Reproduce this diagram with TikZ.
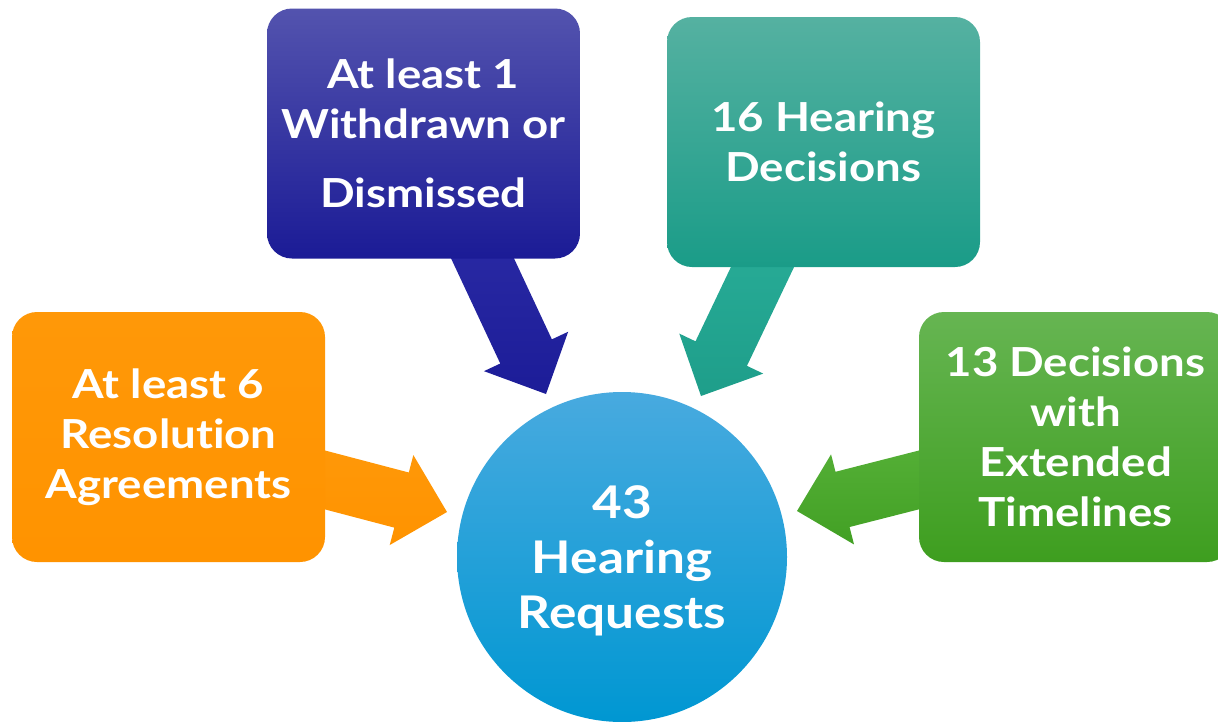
\documentclass[tikz,border=0pt]{standalone}
\usepackage{fontspec}
\newfontfamily\diagfont{Lato}[Ligatures=NoCommon, FakeStretch=1.14]
\usetikzlibrary{calc,backgrounds}
\definecolor{blueTop}{HTML}{5353AE}
\definecolor{blueBot}{HTML}{1B1B96}
\definecolor{blueArrTop}{HTML}{2A2AA4}
\definecolor{blueArrBot}{HTML}{1C1C98}
\definecolor{tealTop}{HTML}{55B1A1}
\definecolor{tealBot}{HTML}{1A9C88}
\definecolor{tealArrTop}{HTML}{28AC97}
\definecolor{tealArrBot}{HTML}{1E9E8A}
\definecolor{orangeTop}{HTML}{FF9808}
\definecolor{orangeBot}{HTML}{FF9300}
\definecolor{greenTop}{HTML}{66B552}
\definecolor{greenBot}{HTML}{3E9E1F}
\definecolor{greenArrTop}{HTML}{54AF36}
\definecolor{greenArrBot}{HTML}{42A024}
\definecolor{circTop}{HTML}{48AADF}
\definecolor{circBot}{HTML}{0097D2}
\newcommand{\blockarrow}[4]{% #1 name, #2 style, #3 start, #4 tip
  \coordinate (#1h) at ($(#4)!47pt!(#3)$);
  \shade[#2] ($(#3)!28.5pt!90:(#4)$) -- ($(#1h)!28.5pt!90:(#4)$)
     -- ($(#1h)!46.5pt!90:(#4)$) -- (#4) -- ($(#1h)!46.5pt!-90:(#4)$)
     -- ($(#1h)!28.5pt!-90:(#4)$) -- ($(#3)!28.5pt!-90:(#4)$) -- cycle;
}
\begin{document}
\begin{tikzpicture}[x=1pt,y=-1pt,
  card/.style={rectangle, rounded corners=25pt, minimum width=313pt,
    minimum height=250pt, inner sep=0pt, align=center, text=white,
    font=\diagfont\bfseries\fontsize{40}{50}\selectfont},
  hub/.style={circle, minimum size=330pt, inner sep=0pt, align=center,
    text=white, font=\diagfont\bfseries\fontsize{45}{55}\selectfont,
    text depth=0pt, top color=circTop, bottom color=circBot}]
\useasboundingbox (0,0) rectangle (1218,721);
\clip (0,0) rectangle (1218,721);

\node[hub] (req) at (622,557) {43\\Hearing\\Requests};
\node[card, top color=blueTop, bottom color=blueBot] (wd) at (423.5,133.5)
  {At least 1\\Withdrawn or\\[19pt]Dismissed};
\node[card, top color=tealTop, bottom color=tealBot] (hd) at (823.5,142)
  {16 Hearing\\Decisions};
\node[card, top color=orangeTop, bottom color=orangeBot] (ra) at (168.5,437)
  {At least 6\\Resolution\\Agreements};
\node[card, top color=greenTop, bottom color=greenBot] (et) at (1075.5,437)
  {13 Decisions\\with\\Extended\\Timelines};

\coordinate (wdS) at ($(wd.south)+(50.5,-18.5)$);
\coordinate (wdT) at ($(req.center)+(-76,-163)$);
\coordinate (hdS) at ($(hd.south)+(-52.5,-18)$);
\coordinate (hdT) at ($(req.center)+(79,-161)$);
\coordinate (raS) at ($(ra.east)+(-19.4,37.9)$);
\coordinate (raT) at ($(req.center)+(-175,-45)$);
\coordinate (etS) at ($(et.west)+(19.4,38)$);
\coordinate (etT) at ($(req.center)+(175,-46)$);

\begin{scope}[on background layer]
\blockarrow{a1}{top color=blueArrTop, bottom color=blueArrBot}{wdS}{wdT}
\blockarrow{a2}{top color=tealArrTop, bottom color=tealArrBot}{hdS}{hdT}
\blockarrow{a3}{top color=orangeTop, bottom color=orangeBot}{raS}{raT}
\blockarrow{a4}{top color=greenArrTop, bottom color=greenArrBot}{etS}{etT}
\end{scope}
\end{tikzpicture}
\end{document}
